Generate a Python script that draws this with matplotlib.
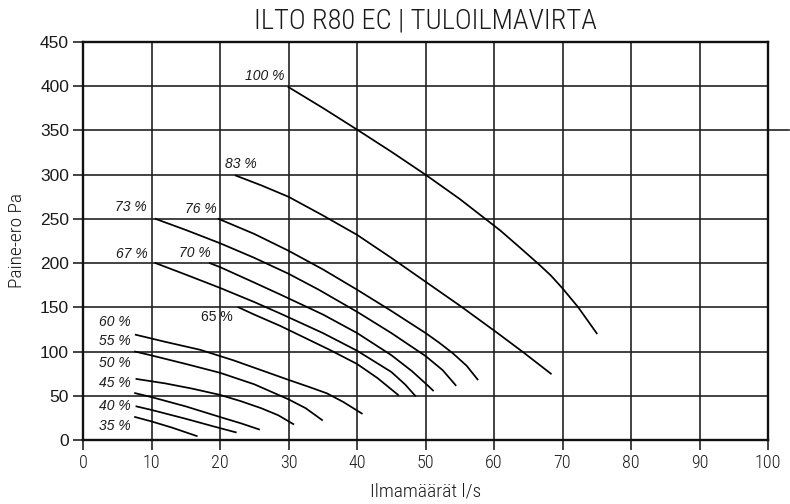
"""Fan curves for ILTO R80 EC supply air (tuloilmavirta)."""

import matplotlib

matplotlib.use("Agg")
import matplotlib.pyplot as plt
from matplotlib import font_manager

# Fan speed settings and their curves (flow l/s, pressure Pa)
speeds = ["100 %", "83 %", "76 %", "73 %", "70 %", "67 %", "65 %",
          "60 %", "55 %", "50 %", "45 %", "40 %", "35 %"]

flow_100 = [30.0, 35.0, 40.0, 45.0, 50.0, 55.0, 60.9, 63.5, 66.5, 68.3, 70.0, 72.3, 75.0]
pres_100 = [399, 375.5, 351, 326, 300, 272.5, 237, 219.5, 199, 186, 171.5, 150, 120.6]

flow_83 = [22.3, 26.0, 30.0, 35.0, 40.0, 45.0, 50.0, 55.0, 60.5, 64.3, 68.3]
pres_83 = [299, 288, 275, 254, 232, 206, 179, 152, 121, 99, 75]

flow_76 = [19.8, 25.0, 30.0, 35.0, 40.0, 45.0, 50.0, 52.0, 54.0, 56.0, 57.6]
pres_76 = [250, 233, 214, 193, 170, 146, 121, 110, 98, 84, 68.5]

flow_73 = [10.6, 15.0, 20.0, 25.0, 30.0, 34.4, 40.0, 45.0, 50.0, 52.5, 54.4]
pres_73 = [250, 237.5, 222.5, 206, 188, 170, 145, 121, 95, 79, 62]

flow_70 = [18.5, 20.0, 25.0, 28.8, 35.0, 40.0, 45.0, 48.0, 50.0, 51.1]
pres_70 = [200, 195.5, 178, 164.5, 142, 121, 96, 78, 64, 56]

flow_67 = [10.6, 15.0, 20.0, 25.0, 28.8, 35.0, 40.0, 45.0, 47.0, 48.5]
pres_67 = [200, 187, 172, 156, 143, 121, 101, 77, 63, 50]

flow_65 = [22.7, 25.0, 28.8, 32.0, 36.0, 40.0, 43.0, 46.0]
pres_65 = [150, 141.8, 129, 117, 102, 86, 70, 51]

flow_60 = [7.7, 12.0, 17.1, 22.0, 26.0, 30.0, 33.0, 35.6, 38.0, 40.7]
pres_60 = [119, 111, 102, 90, 79, 68, 60, 52.8, 43, 30]

flow_55 = [7.6, 9.8, 15.0, 20.0, 25.0, 30.0, 32.5, 34.9]
pres_55 = [100, 96, 86, 76, 63, 46, 36, 22.6]

flow_50 = [7.8, 12.0, 16.0, 20.0, 23.0, 26.0, 28.5, 30.7]
pres_50 = [69, 64, 58, 51, 44, 36, 28, 18]

flow_45 = [7.6, 10.0, 15.0, 20.0, 23.0, 25.7]
pres_45 = [53, 48.5, 38, 26, 19, 12]

flow_40 = [7.8, 10.0, 15.0, 19.0, 22.3]
pres_40 = [38, 34, 24, 15.5, 8.7]

flow_35 = [7.6, 10.0, 13.0, 16.6]
pres_35 = [26, 21, 14, 4.5]

curves = [
    (flow_100, pres_100), (flow_83, pres_83), (flow_76, pres_76),
    (flow_73, pres_73), (flow_70, pres_70), (flow_67, pres_67),
    (flow_65, pres_65), (flow_60, pres_60), (flow_55, pres_55),
    (flow_50, pres_50), (flow_45, pres_45), (flow_40, pres_40),
    (flow_35, pres_35),
]

x_ticks = list(range(0, 101, 10))
y_ticks = list(range(0, 451, 50))

# where each speed label sits (right edge, vertical centre), in data units
label_pos = {
    "100 %": (29.4, 412), "83 %": (25.3, 312), "76 %": (19.5, 261),
    "73 %": (9.3, 264), "70 %": (18.7, 211), "67 %": (9.5, 210),
    "65 %": (21.9, 139), "60 %": (6.9, 133), "55 %": (6.9, 112),
    "50 %": (6.9, 87), "45 %": (6.9, 65), "40 %": (6.9, 38),
    "35 %": (6.9, 16),
}


def pick_font(*names):
    """Return the first installed family from names."""
    installed = {f.name for f in font_manager.fontManager.ttflist}
    for name in names:
        if name in installed:
            return name
    return "DejaVu Sans"


narrow = pick_font("Liberation Sans Narrow", "Roboto Condensed", "Open Sans Condensed")
regular = pick_font("Liberation Sans", "Arial")

fig = plt.figure(figsize=(7.9, 5.04), dpi=100)
ax = fig.add_axes([83 / 790, 1 - 440 / 504, 685 / 790, 398 / 504])

for (flow, pres) in curves:
    ax.plot(flow, pres, color="black", linewidth=1.25, zorder=3,
            solid_joinstyle="round")

for name in speeds:
    lx, ly = label_pos[name]
    ax.text(lx, ly, name, ha="right", va="center", fontsize=10,
            family=regular, style="normal" if name == "65 %" else "italic",
            color="#1a1a1a", zorder=4)

ax.set_xlim(0, 100)
ax.set_ylim(0, 450)
ax.set_xticks(x_ticks)
ax.set_yticks(y_ticks)
ax.set_xticklabels([str(v) for v in x_ticks], family=narrow, fontsize=13,
                   fontweight="light")
ax.set_yticklabels([str(v) for v in y_ticks], family=regular, fontsize=12.5)
ax.grid(True, color="#222222", linewidth=1.2, zorder=1)
ax.set_axisbelow(True)
ax.tick_params(axis="both", direction="out", length=7, width=1.2,
               color="#222222", pad=3, labelcolor="#1a1a1a")
for side in ax.spines.values():
    side.set_linewidth(1.7)
    side.set_color("#111111")

# the 350 Pa line runs a little past the right edge in the original
ax.axhline(350, xmin=1.0, xmax=1.03, color="#222222", linewidth=1.2, clip_on=False)

ax.set_xlabel("Ilmamäärät l/s", family=narrow, fontsize=14, fontweight="light",
              labelpad=8, color="#1a1a1a")
ax.set_ylabel("Paine-ero Pa", family=narrow, fontsize=14, fontweight="light",
              labelpad=10, color="#1a1a1a")
fig.text(425 / 790, 1 - 21 / 504, "ILTO R80 EC | TULOILMAVIRTA", ha="center",
         va="center", family=narrow, fontsize=20.5, fontweight="light",
         color="#1a1a1a")

fig.savefig("out.png", dpi=100)
plt.close(fig)
